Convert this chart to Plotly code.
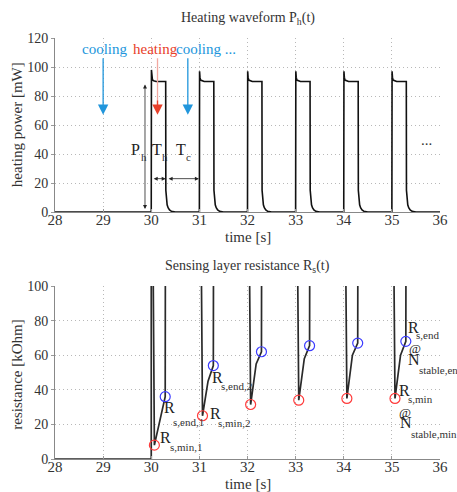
import plotly.graph_objects as go

# ---------------- data ----------------
pulse_starts = [30, 31, 32, 33, 34, 35]          # heating pulse start times [s]
pulse_peaks = [98, 97, 97, 97, 97, 97]           # overshoot peak [mW]
# shape of one heating pulse: offset [s] and power [mW]
pulse_offsets = [0.0, 0.004, 0.012, 0.025, 0.05, 0.10, 0.20, 0.30, 0.303, 0.315, 0.33, 0.35, 0.38, 0.42, 0.50]
pulse_values = [0, None, 93, 91, 90.5, 90, 90, 90, 15, 9, 5, 3, 1.5, 0.5, 0]

# resistance per cycle [kOhm]
r_min = [8, 25, 31.5, 34, 35, 35]
r_mid = [23, 45, 55, 58, 60, 60]
r_end = [36, 54, 62, 65.5, 67, 68]
r_drop_offset = 0.03
r_min_offset = 0.065
r_mid_offset = 0.18
r_end_offset = 0.29
r_high = 150   # off-scale value during cooling

t_start, t_stop = 28, 36
x_ticks = [28, 29, 30, 31, 32, 33, 34, 35, 36]
p_ticks = [0, 20, 40, 60, 80, 100, 120]
r_ticks = [0, 20, 40, 60, 80, 100]

# ---------------- build traces ----------------
pt, pv = [t_start], [0]
for s, pk in zip(pulse_starts, pulse_peaks):
    for o, v in zip(pulse_offsets, pulse_values):
        pt.append(s + o)
        pv.append(pk if v is None else v)
pt.append(t_stop); pv.append(0)

rt, rv = [t_start, pulse_starts[0]], [0, 0]
rt.append(pulse_starts[0]); rv.append(r_high)
for s, a, m, e in zip(pulse_starts, r_min, r_mid, r_end):
    rt += [s + r_drop_offset, s + r_min_offset, s + r_mid_offset, s + r_end_offset, s + r_end_offset + 0.005]
    rv += [r_high, a, m, e, r_high]
rt.append(t_stop); rv.append(r_high)

fig = go.Figure()
fig.add_trace(go.Scatter(x=pt, y=pv, mode="lines", line=dict(color="#111", width=1.6),
                         xaxis="x", yaxis="y", showlegend=False))
fig.add_trace(go.Scatter(x=rt, y=rv, mode="lines", line=dict(color="#2a2a2a", width=1.7),
                         xaxis="x2", yaxis="y2", showlegend=False))
fig.add_trace(go.Scatter(x=[s + r_min_offset for s in pulse_starts], y=r_min, mode="markers",
                         marker=dict(symbol="circle-open", size=10, color="#ff3b3b", line=dict(width=1.2)),
                         xaxis="x2", yaxis="y2", showlegend=False))
fig.add_trace(go.Scatter(x=[s + r_end_offset for s in pulse_starts], y=r_end, mode="markers",
                         marker=dict(symbol="circle-open", size=10, color="#3b3bff", line=dict(width=1.2)),
                         xaxis="x2", yaxis="y2", showlegend=False))

FONT = "Liberation Serif, Times New Roman, serif"
ax_base = dict(showline=True, linecolor="#888", linewidth=1, mirror=False,
               tickcolor="#999", showgrid=True, gridcolor="#b8b8b8", griddash="1px,3px",
               gridwidth=1, zeroline=False, automargin=False)
x_common = dict(ax_base, ticks="inside", ticklen=3, ticklabelstandoff=-6,
                tickfont=dict(family=FONT, size=15, color="#333"))
y_common = dict(ax_base, ticks="outside", ticklen=3, ticklabelstandoff=0,
                tickfont=dict(family=FONT, size=14, color="#333"))

fig.update_layout(
    width=457, height=492, plot_bgcolor="white", paper_bgcolor="white",
    margin=dict(l=55, r=17, t=38, b=33),
    font=dict(family=FONT, color="#333"),
    xaxis=dict(domain=[0, 1], anchor="y", range=[28, 36], tickvals=x_ticks, **x_common),
    yaxis=dict(domain=[0.5867, 1], anchor="x", range=[0, 120], tickvals=p_ticks, **y_common),
    xaxis2=dict(domain=[0, 1], anchor="y2", range=[28, 36], tickvals=x_ticks, **x_common),
    yaxis2=dict(domain=[0, 0.4109], anchor="x2", range=[0, 100], tickvals=r_ticks, **y_common),
)

ann = []
def paper_text(txt, x, y, size=15, angle=0):
    ann.append(dict(text=txt, xref="paper", yref="paper", x=x, y=y, showarrow=False,
                    xanchor="center", yanchor="middle",
                    textangle=angle, font=dict(size=size, color="#333")))

# titles and axis titles
paper_text("Heating waveform P<sub>h</sub>(t)", 0.5, 1.047, 14)
paper_text("Sensing layer resistance R<sub>s</sub>(t)", 0.5, 0.457, 14)
paper_text("time [s]", 0.5, 0.527, 15)
paper_text("time [s]", 0.5, -0.059, 15)
paper_text("heating power [mW]", -0.099, 0.795, 15, -90)
paper_text("resistance [kOhm]", -0.099, 0.20, 15, -90)

BLUE = "#2196dc"
RED = "#e8402a"
# top annotations
ann.append(dict(text="cooling", x=29.02, y=112.5, xref="x", yref="y", showarrow=False,
                font=dict(size=15, color=BLUE)))
ann.append(dict(text="heating", x=30.08, y=112.5, xref="x", yref="y", showarrow=False,
                font=dict(size=15, color=RED)))
ann.append(dict(text="cooling ...", x=31.14, y=112.5, xref="x", yref="y", showarrow=False,
                font=dict(size=15, color=BLUE)))
for xa in [29.0, 30.76]:
    ann.append(dict(text="", x=xa, y=67, ax=xa, ay=107, xref="x", yref="y", axref="x", ayref="y",
                    showarrow=True, arrowhead=2, arrowsize=1.6, arrowwidth=1.3, arrowcolor=BLUE))
# heating arrow: pale shaft with red head
ann.append(dict(text="", x=30.13, y=72, ax=30.13, ay=107, xref="x", yref="y", axref="x", ayref="y",
                showarrow=True, arrowhead=0, arrowwidth=1.3, arrowcolor="#f2a8a0"))
ann.append(dict(text="", x=30.13, y=67, ax=30.13, ay=78, xref="x", yref="y", axref="x", ayref="y",
                showarrow=True, arrowhead=2, arrowsize=1.6, arrowwidth=1.3, arrowcolor=RED))
ann.append(dict(text="...", x=35.72, y=50, xref="x", yref="y", showarrow=False, font=dict(size=15)))

def sym(main, sub, x, y, xs, ys, xr="x", yr="y", size=16, subsize=11):
    ann.append(dict(text=main, x=x, y=y, xref=xr, yref=yr, showarrow=False,
                    font=dict(size=size, color="#222")))
    if sub:
        ann.append(dict(text=sub, x=xs, y=ys, xref=xr, yref=yr, showarrow=False, xanchor="left",
                        font=dict(size=subsize, color="#333")))

sym("P", "h", 29.683, 42.8, 29.74, 38.0)
sym("T", "h", 30.12, 42.8, 30.175, 38.0)
sym("T", "c", 30.624, 42.8, 30.68, 38.0)
ann.append(dict(text="", x=29.87, y=2, ax=29.87, ay=89, xref="x", yref="y", axref="x", ayref="y",
                showarrow=True, arrowhead=2, arrowside="end+start", arrowsize=1, arrowwidth=0.8,
                arrowcolor="#222"))
ann.append(dict(text="", x=30.3, y=23, ax=30.02, ay=23, xref="x", yref="y", axref="x", ayref="y",
                showarrow=True, arrowhead=2, arrowside="end+start", arrowsize=1, arrowwidth=0.8,
                arrowcolor="#222"))
ann.append(dict(text="", x=30.99, y=23, ax=30.33, ay=23, xref="x", yref="y", axref="x", ayref="y",
                showarrow=True, arrowhead=2, arrowside="end+start", arrowsize=1, arrowwidth=0.8,
                arrowcolor="#222"))

# bottom annotations
sym("R", "s,min,1", 30.286, 12.5, 30.34, 7.0, "x2", "y2")
sym("R", "s,end,1", 30.375, 29.6, 30.42, 21.5, "x2", "y2")
sym("R", "s,min,2", 31.325, 26.4, 31.35, 20.6, "x2", "y2")
sym("R", "s,end,2", 31.37, 47.1, 31.40, 42.0, "x2", "y2")
sym("R", "s,end", 35.445, 76.3, 35.46, 71.8, "x2", "y2")
sym("@", "", 35.48, 64.0, 0, 0, "x2", "y2", size=13)
sym("N", "stable,end", 35.454, 57.5, 35.52, 51.6, "x2", "y2")
sym("R", "s,min", 35.27, 39.8, 35.29, 34.6, "x2", "y2")
sym("@", "", 35.27, 26.6, 0, 0, "x2", "y2", size=13)
sym("N", "stable,min", 35.29, 21.0, 35.36, 14.4, "x2", "y2")

fig.update_layout(annotations=ann)
fig.write_html("out.html", config={"displayModeBar": False},
               post_script="document.body.style.margin='0px';")
